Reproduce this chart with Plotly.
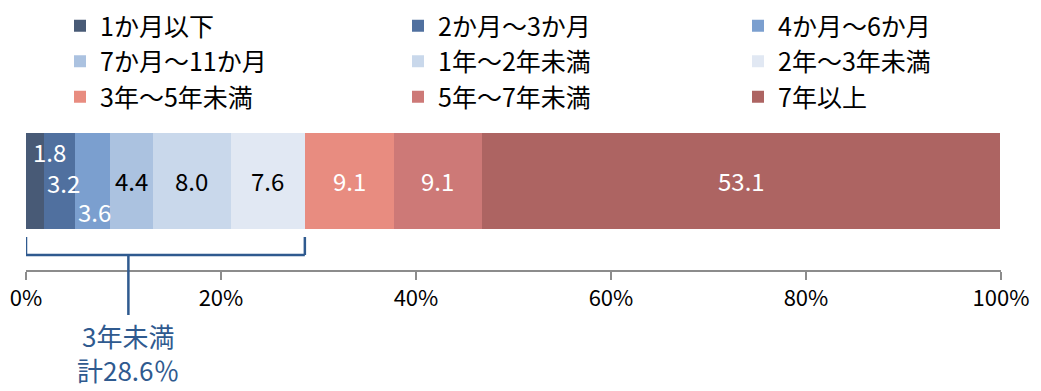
import plotly.graph_objects as go

# =========================
# DATA
# =========================
categories = ["1か月以下", "2か月～3か月", "4か月～6か月",
              "7か月～11か月", "1年～2年未満", "2年～3年未満",
              "3年～5年未満", "5年～7年未満", "7年以上"]
values = [1.8, 3.2, 3.6, 4.4, 8.0, 7.6, 9.1, 9.1, 53.1]
tick_vals = [0, 20, 40, 60, 80, 100]
tick_text = ["0%", "20%", "40%", "60%", "80%", "100%"]
bracket_label = "3年未満<br>計28.6％"
n_under3 = 6  # first six categories are "under 3 years"

# =========================
# STYLE
# =========================
colors = ["#485a76", "#50709f", "#7b9fcf", "#abc2e0", "#c9d8eb",
          "#e1e8f3", "#e88c80", "#cd7977", "#ad6462"]
label_colors = ["white", "white", "white", "black", "black", "black",
                "white", "white", "white"]
# (xshift, yshift) for labels of the narrow segments
label_shift = {0: (15, 29), 1: (4, -2), 2: (2, -31)}
font = "Noto Sans CJK JP"
blue = "#2f5a8f"

# the page body adds an 8px margin, so the figure is a bit smaller than the window
W, H = 1033, 383
ML, MR, MT, MB = 18, 40, 112, 121
plot_w, plot_h = W - ML - MR, H - MT - MB

legend_names = ["legend", "legend2", "legend3"]
legend_left = [52, 390, 730]  # px in figure, left edge of each legend column
legend_top = -5               # px in figure

fig = go.Figure()
for i, (name, v, c) in enumerate(zip(categories, values, colors)):
    fig.add_trace(go.Bar(
        x=[v], y=[0], orientation="h", name=name, width=1,
        marker=dict(color=c, line=dict(width=0)),
        legend=legend_names[i % 3], legendgroup=name,
        hoverinfo="name+x",
    ))

# data labels
start = 0.0
for i, v in enumerate(values):
    dx, dy = label_shift.get(i, (0, 0))
    fig.add_annotation(
        x=start + v / 2, y=0, xref="x", yref="y",
        text=f"{v:.1f}", showarrow=False, xshift=dx, yshift=dy,
        font=dict(family=font, size=24, color=label_colors[i]),
    )
    start += v

# bracket for "under 3 years"
total_under3 = sum(values[:n_under3])
line = dict(color=blue, width=2.5)
fig.add_shape(type="line", xref="x", yref="paper", x0=0, x1=0, y0=0.22, y1=0.1, line=line)
fig.add_shape(type="line", xref="x", yref="paper", x0=total_under3, x1=total_under3, y0=0.22, y1=0.1, line=line)
fig.add_shape(type="line", xref="x", yref="paper", x0=0, x1=total_under3, y0=0.1, y1=0.1, line=line)
fig.add_shape(type="line", xref="x", yref="paper", x0=10.5, x1=10.5, y0=0.1, y1=-0.3, line=line)
fig.add_annotation(
    x=10.5, y=-0.3, xref="x", yref="paper", yanchor="top",
    text=bracket_label, showarrow=False, align="center",
    font=dict(family=font, size=26, color=blue),
)

legend_style = dict(
    orientation="v", xref="paper", yref="paper",
    y=1 + (MT - legend_top) / plot_h, xanchor="left", yanchor="top",
    traceorder="normal", tracegroupgap=9,
    font=dict(family=font, size=25, color="black"),
    bgcolor="rgba(0,0,0,0)",
)

fig.update_layout(
    barmode="stack",
    width=W, height=H,
    margin=dict(l=ML, r=MR, t=MT, b=MB, autoexpand=False),
    plot_bgcolor="white", paper_bgcolor="white",
    font=dict(family=font, size=22, color="black"),
    showlegend=True,
    legend=dict(legend_style, x=(legend_left[0] - ML) / plot_w),
    legend2=dict(legend_style, x=(legend_left[1] - ML) / plot_w),
    legend3=dict(legend_style, x=(legend_left[2] - ML) / plot_w),
    xaxis=dict(
        range=[0, 100], tickvals=tick_vals, ticktext=tick_text,
        showgrid=False, zeroline=False,
        showline=True, linecolor="#8c8c8c", linewidth=2,
        ticks="outside", ticklen=8, tickwidth=2, tickcolor="#8c8c8c",
        tickfont=dict(family=font, size=22, color="black"),
    ),
    yaxis=dict(range=[-0.927, 0.635], visible=False, fixedrange=True),
)

fig.write_html("out.html")
